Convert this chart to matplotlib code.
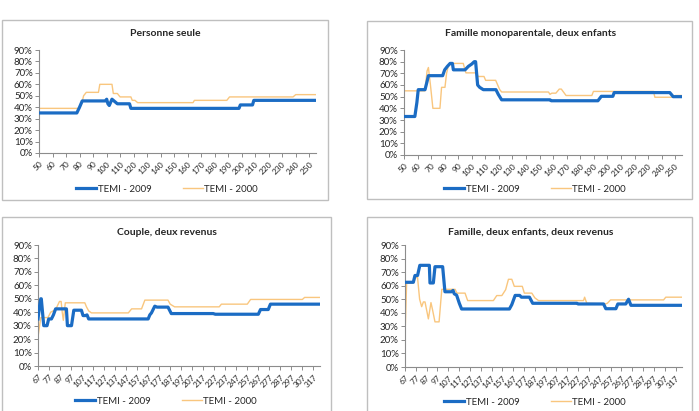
import matplotlib
matplotlib.use("Agg")
import matplotlib.pyplot as plt
from matplotlib.patches import Rectangle
from matplotlib.ticker import FuncFormatter

plt.rcParams['font.family'] = ['Lato', 'DejaVu Sans']

W, H = 699, 411

# ---------------- data ----------------
titles = ["Personne seule", "Famille monoparentale, deux enfants",
          "Couple, deux revenus", "Famille, deux enfants, deux revenus"]
series_labels = ["TEMI - 2009", "TEMI - 2000"]

ticks_top = list(range(50, 251, 10))
ticks_bottom = list(range(67, 318, 10))
yticks = [0, 10, 20, 30, 40, 50, 60, 70, 80, 90]

# Personne seule
p1_x_2009 = [50, 78, 80, 82, 99, 100.1, 101, 102, 104, 106, 108, 117, 118, 198, 199, 208, 209, 255]
p1_y_2009 = [35, 35, 40, 45.5, 45.5, 47, 43, 41.5, 47, 45, 43, 43, 39, 39, 42, 42, 46, 46]
p1_x_2000 = [50, 80, 82, 83, 85, 94, 95, 104, 105, 108, 110, 118, 119, 121, 123, 164, 165, 189, 191, 238, 240, 255]
p1_y_2000 = [39, 39, 45, 50, 53, 53, 60, 60, 52, 52, 49, 49, 46, 46, 44, 44, 46, 46, 49, 49, 51, 51]

# Famille monoparentale, deux enfants
p2_x_2009 = [50, 58, 59.5, 60.5, 65.5, 67, 68, 78.5, 80, 82, 84, 85.7, 86.4, 95, 97.5, 100, 101.8, 102.8,
             104.3, 105.8, 108.5, 117.8, 119.5, 122, 157.7, 158.5, 193, 195.5, 204, 205, 246, 248.5, 255]
p2_y_2009 = [33, 33, 45, 56, 56, 63, 68, 68, 73, 76, 78.5, 78.5, 73, 73, 76, 78, 80, 80,
             60, 58, 56, 56, 52, 47.3, 47.3, 46.5, 46.5, 50.3, 50.3, 53.5, 53.5, 50, 50]
p2_x_2000 = [50, 65.5, 67, 68, 69.5, 71.3, 76.5, 77.7, 80.2, 81.4, 82.6, 85, 93.7, 94.5, 95.7, 103.6,
             104.5, 109, 110.2, 117.6, 120.6, 122, 156.5, 157.7, 159, 162, 164.5, 166, 169.5, 188.5,
             189.7, 234, 235, 248.6, 250, 255]
p2_y_2000 = [55, 55, 72, 75, 60, 40, 40, 58, 58, 70, 76, 78.5, 78.5, 75, 70.4, 70.4,
             67.3, 67.3, 64, 64, 56, 54, 54, 52, 53, 53, 56.5, 56.5, 51, 51,
             54.5, 54.5, 49.5, 49.5, 51, 51]

# Couple, deux revenus
p3_x_2009 = [67, 68.5, 69.5, 70, 72.2, 75.2, 76.7, 79.2, 81, 83, 92.8, 93.7, 97.4, 99.5, 106.4, 107.9,
             110, 111.5, 113, 167, 168.5, 170, 173, 175, 185, 188, 226, 228, 267, 269, 276, 278, 323]
p3_y_2009 = [35, 45, 50, 50, 30, 30, 35, 35, 38, 42.5, 42.5, 30, 30, 41.5, 41.5, 37.5,
             37.5, 38, 35, 35, 38, 39.5, 44.5, 43.8, 43.8, 39, 39, 38.5, 38.5, 42, 42, 46, 46]
p3_x_2000 = [67, 69.5, 76, 78.5, 83, 86.5, 88, 89, 90, 91.8, 109.5, 111, 113, 115.5, 149, 152, 161, 164,
             185, 187, 191, 231.5, 233.5, 257, 260, 307, 309, 323]
p3_y_2000 = [21.5, 36, 36, 40, 42, 48, 48, 40, 34, 47, 47, 44, 41, 39.5, 39.5, 42.5, 42.5, 49,
             49, 46, 44, 44, 46, 46, 49.5, 49.5, 51, 51]

# Famille, deux enfants, deux revenus
p4_x_2009 = [67, 74.7, 76.2, 78.6, 80.7, 89.5, 90.1, 93.2, 94.7, 101.8, 103.9, 110, 111.4, 112.5, 114.7,
             117.2, 119.3, 163.5, 165.7, 168.8, 173, 174.6, 182, 185, 225.9, 227, 250.5, 252.6, 261.9,
             263.7, 271, 273.6, 275.8, 323]
p4_y_2009 = [62.5, 62.5, 67.5, 67.5, 75, 75, 62, 62, 74, 74, 55.5, 55.5, 56.5, 54, 53,
             47, 42.8, 42.8, 46, 52.8, 52.8, 51.5, 51.5, 47, 47, 46.5, 46.5, 43, 43,
             46.5, 46.5, 50, 45.5, 45.5]
p4_x_2000 = [67, 68.5, 74.7, 77, 78.6, 80.5, 82.4, 84, 85.5, 88.6, 91, 92.5, 94.7, 98.5, 101, 113.3,
             115, 122.5, 124.9, 148.7, 151.8, 156.5, 160, 162.6, 165.7, 168, 175.4, 177.3, 184.2, 187,
             190.4, 232, 233, 235, 252, 254, 257, 306, 308, 323]
p4_y_2000 = [22.5, 61.7, 62, 66, 66, 50, 44.5, 48, 48, 35.5, 47.5, 42, 33.3, 33.3, 57.3, 57.3,
             54.5, 54.5, 49, 49, 52.7, 52.7, 57, 64.7, 64.7, 59.5, 59.5, 54.5, 54.5, 51,
             49, 49, 51.5, 47, 46.5, 47, 49.5, 49.5, 51.5, 51.5]

# ---------------- layout (pixels) ----------------
panels = [
    dict(ax=(39, 50, 316, 153), frame=(2, 20, 328, 200), title_xy=(165, 34), leg_xy=(167, 189),
         xs=(p1_x_2009, p1_x_2000), ys=(p1_y_2009, p1_y_2000), ticks=ticks_top, xlim=(50, 255)),
    dict(ax=(404, 50, 682, 155), frame=(367, 21, 692, 199), title_xy=(531, 34), leg_xy=(535, 189),
         xs=(p2_x_2009, p2_x_2000), ys=(p2_y_2009, p2_y_2000), ticks=ticks_top, xlim=(50, 255)),
    dict(ax=(38, 245, 320, 366), frame=(2, 217, 331, 415), title_xy=(167, 232), leg_xy=(166, 401),
         xs=(p3_x_2009, p3_x_2000), ys=(p3_y_2009, p3_y_2000), ticks=ticks_bottom, xlim=(67, 323)),
    dict(ax=(405, 245, 682, 367), frame=(367, 217, 692, 415), title_xy=(531, 232), leg_xy=(535, 402),
         xs=(p4_x_2009, p4_x_2000), ys=(p4_y_2009, p4_y_2000), ticks=ticks_bottom, xlim=(67, 323)),
]

BLUE = '#1B6CC4'
ORANGE = '#F9C67E'
TXT = '#262626'
AXC = '#8C8C8C'

fig = plt.figure(figsize=(W / 100, H / 100), dpi=100)
fig.patch.set_facecolor('white')


def fx(px):
    return px / W


def fy(py):
    return 1 - py / H


for i, p in enumerate(panels):
    x0, y0, x1, y1 = p['frame']
    fig.add_artist(Rectangle((fx(x0), fy(y1)), fx(x1 - x0), (y1 - y0) / H,
                             transform=fig.transFigure, fill=False,
                             edgecolor='#BFBFBF', linewidth=1.0, zorder=0))
    l, t, r, b = p['ax']
    ax = fig.add_axes([fx(l), fy(b), fx(r - l), (b - t) / H])
    ax.set_facecolor('none')
    ax.plot(p['xs'][0], p['ys'][0], color=BLUE, lw=2.3, label=series_labels[0],
            solid_joinstyle='round', zorder=3)
    ax.plot(p['xs'][1], p['ys'][1], color=ORANGE, lw=1.0, label=series_labels[1], zorder=2)
    ax.set_xlim(*p['xlim'])
    ax.set_ylim(0, 90)
    ax.set_yticks(yticks)
    ax.yaxis.set_major_formatter(FuncFormatter(lambda v, pos: f"{int(round(v))}%"))
    ax.set_xticks(p['ticks'])
    ax.set_xticklabels([str(t) for t in p['ticks']], rotation=45, ha='right', va='top',
                       rotation_mode='anchor', fontsize=6, color=TXT)
    ax.tick_params(axis='y', labelsize=7, colors=AXC, labelcolor=TXT, length=3, width=0.7, pad=1.5)
    ax.tick_params(axis='x', colors=AXC, labelcolor=TXT, length=3, width=0.7, pad=2)
    for s in ('top', 'right'):
        ax.spines[s].set_visible(False)
    for s in ('left', 'bottom'):
        ax.spines[s].set_color(AXC)
        ax.spines[s].set_linewidth(0.8)
    fig.text(fx(p['title_xy'][0]), fy(p['title_xy'][1]), titles[i], ha='center', va='center',
             fontsize=7.5, fontweight='bold', color=TXT)
    ax.legend(loc='center', bbox_to_anchor=(fx(p['leg_xy'][0]), fy(p['leg_xy'][1])),
              bbox_transform=fig.transFigure, ncol=2, frameon=False, fontsize=7,
              handlelength=2.1, handletextpad=0.15, columnspacing=3.2, labelcolor=TXT,
              borderpad=0.2)

fig.savefig('out.png', dpi=100, facecolor='white')
